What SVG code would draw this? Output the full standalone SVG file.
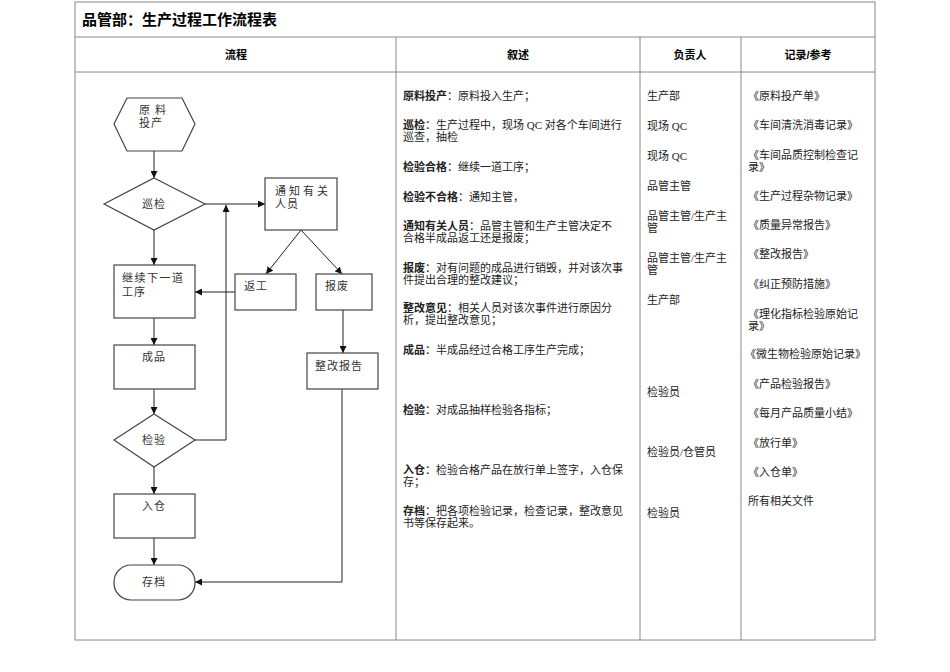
<svg xmlns="http://www.w3.org/2000/svg" width="950" height="672" viewBox="0 0 950 672">
<defs>
<style>
.t{font-family:"Liberation Serif","Noto Sans CJK SC",serif;font-size:11px;fill:#222}
.b{font-weight:bold}
.h{font-family:"Liberation Sans","Noto Sans CJK SC",sans-serif;font-size:11px;font-weight:bold;text-anchor:middle}
.n{font-family:"Liberation Sans","Noto Sans CJK SC",sans-serif;font-size:11px;fill:#333;letter-spacing:1px}
.s{fill:#fff;stroke:#444;stroke-width:1.2}
.c{fill:none;stroke:#222;stroke-width:1}
.g{stroke:#888;stroke-width:1;fill:none}
</style>
<marker id="a" viewBox="0 0 10 10" refX="10" refY="5" markerWidth="7" markerHeight="7" orient="auto"><path d="M0,0L10,5L0,10z" fill="#111"/></marker>
</defs>
<rect width="950" height="672" fill="#fff"/>
<g id="table">
<rect x="75" y="2" width="800" height="638" class="g"/>
<line x1="75" y1="37" x2="875" y2="37" class="g"/>
<line x1="75" y1="72" x2="875" y2="72" class="g"/>
<line x1="396" y1="37" x2="396" y2="640" class="g"/>
<line x1="640" y1="37" x2="640" y2="640" class="g"/>
<line x1="741" y1="37" x2="741" y2="640" class="g"/>
<text x="82" y="25" font-family="Liberation Sans,Noto Sans CJK SC,sans-serif" font-size="15" font-weight="bold">品管部：生产过程工作流程表</text>
<text x="236" y="59" class="h">流程</text>
<text x="518" y="59" class="h">叙述</text>
<text x="690" y="59" class="h">负责人</text>
<text x="808" y="59" class="h">记录/参考</text>
</g>
<g id="connectors">
<line x1="154" y1="151" x2="154" y2="178" class="c" marker-end="url(#a)"/>
<line x1="205" y1="204" x2="265" y2="204" class="c" marker-end="url(#a)"/>
<line x1="154" y1="230" x2="154" y2="265" class="c" marker-end="url(#a)"/>
<line x1="301" y1="230" x2="266" y2="274" class="c" marker-end="url(#a)"/>
<line x1="301" y1="230" x2="342" y2="274" class="c" marker-end="url(#a)"/>
<line x1="235" y1="292" x2="195" y2="292" class="c" marker-end="url(#a)"/>
<line x1="343" y1="310" x2="343" y2="353" class="c" marker-end="url(#a)"/>
<line x1="154" y1="318" x2="154" y2="345" class="c" marker-end="url(#a)"/>
<line x1="154" y1="389" x2="154" y2="414" class="c" marker-end="url(#a)"/>
<polyline points="195,440 226,440 226,205" class="c" marker-end="url(#a)"/>
<line x1="154" y1="467" x2="154" y2="494" class="c" marker-end="url(#a)"/>
<line x1="154" y1="538" x2="154" y2="565" class="c" marker-end="url(#a)"/>
<polyline points="342,389 342,582 195,582" class="c" marker-end="url(#a)"/>
</g>
<g id="n1"><polygon points="127,98 182,98 195,124 182,151 127,151 114,124" class="s"/><text x="139" y="114" class="n">原 料</text><text x="139" y="127" class="n">投产</text></g>
<g id="n2"><polygon points="154,178 205,204 154,230 104,204" class="s"/><text x="154" y="208" class="n" text-anchor="middle">巡检</text></g>
<g id="n3"><rect x="265" y="178" width="72" height="52" class="s"/><text x="275" y="195" class="n" style="letter-spacing:3px">通知有关</text><text x="275" y="208" class="n">人员</text></g>
<g id="n4"><rect x="114" y="265" width="81" height="53" class="s"/><text x="122" y="282" class="n" style="letter-spacing:1.5px">继续下一道</text><text x="122" y="296" class="n">工序</text></g>
<g id="n5"><rect x="235" y="274" width="61" height="36" class="s"/><text x="244" y="290" class="n">返工</text></g>
<g id="n6"><rect x="316" y="274" width="56" height="36" class="s"/><text x="325" y="290" class="n">报废</text></g>
<g id="n7"><rect x="307" y="353" width="71" height="36" class="s"/><text x="315" y="370" class="n">整改报告</text></g>
<g id="n8"><rect x="114" y="345" width="81" height="44" class="s"/><text x="154" y="361" class="n" text-anchor="middle">成品</text></g>
<g id="n9"><polygon points="154,414 195,440 154,467 114,440" class="s"/><text x="154" y="444" class="n" text-anchor="middle">检验</text></g>
<g id="n10"><rect x="114" y="494" width="81" height="44" class="s"/><text x="154" y="510" class="n" text-anchor="middle">入仓</text></g>
<g id="n11"><rect x="114" y="565" width="81" height="35" rx="17" class="s"/><text x="154" y="586" class="n" text-anchor="middle">存档</text></g>
<g id="desc" class="t">
<text x="403" y="100"><tspan class="b">原料投产</tspan>：原料投入生产；</text>
<text x="403" y="129"><tspan class="b">巡检</tspan>：生产过程中，现场 QC 对各个车间进行</text>
<text x="403" y="141">巡查，抽检</text>
<text x="403" y="171"><tspan class="b">检验合格</tspan>：继续一道工序；</text>
<text x="403" y="201"><tspan class="b">检验不合格</tspan>：通知主管，</text>
<text x="403" y="230"><tspan class="b">通知有关人员</tspan>：品管主管和生产主管决定不</text>
<text x="403" y="242">合格半成品返工还是报废；</text>
<text x="403" y="272"><tspan class="b">报废</tspan>：对有问题的成品进行销毁，并对该次事</text>
<text x="403" y="284">件提出合理的整改建议；</text>
<text x="403" y="312"><tspan class="b">整改意见</tspan>：相关人员对该次事件进行原因分</text>
<text x="403" y="324">析，提出整改意见；</text>
<text x="403" y="354"><tspan class="b">成品</tspan>：半成品经过合格工序生产完成；</text>
<text x="403" y="414"><tspan class="b">检验</tspan>：对成品抽样检验各指标；</text>
<text x="403" y="474"><tspan class="b">入仓</tspan>：检验合格产品在放行单上签字，入仓保</text>
<text x="403" y="486">存；</text>
<text x="403" y="515"><tspan class="b">存档</tspan>：把各项检验记录，检查记录，整改意见</text>
<text x="403" y="527">书等保存起来。</text>
</g>
<g id="resp" class="t">
<text x="647" y="100">生产部</text>
<text x="647" y="130">现场 QC</text>
<text x="647" y="160">现场 QC</text>
<text x="647" y="190">品管主管</text>
<text x="647" y="220">品管主管/生产主</text>
<text x="647" y="232">管</text>
<text x="647" y="262">品管主管/生产主</text>
<text x="647" y="274">管</text>
<text x="647" y="304">生产部</text>
<text x="647" y="396">检验员</text>
<text x="647" y="456">检验员/仓管员</text>
<text x="647" y="517">检验员</text>
</g>
<g id="rec" class="t">
<text x="748" y="100">《原料投产单》</text>
<text x="748" y="129">《车间清洗消毒记录》</text>
<text x="748" y="159">《车间品质控制检查记</text>
<text x="748" y="171">录》</text>
<text x="748" y="200">《生产过程杂物记录》</text>
<text x="748" y="229">《质量异常报告》</text>
<text x="748" y="258">《整改报告》</text>
<text x="748" y="288">《纠正预防措施》</text>
<text x="748" y="318">《理化指标检验原始记</text>
<text x="748" y="330">录》</text>
<text x="745" y="358">《微生物检验原始记录》</text>
<text x="748" y="388">《产品检验报告》</text>
<text x="748" y="417">《每月产品质量小结》</text>
<text x="748" y="447">《放行单》</text>
<text x="748" y="476">《入仓单》</text>
<text x="748" y="505">所有相关文件</text>
</g>
</svg>
